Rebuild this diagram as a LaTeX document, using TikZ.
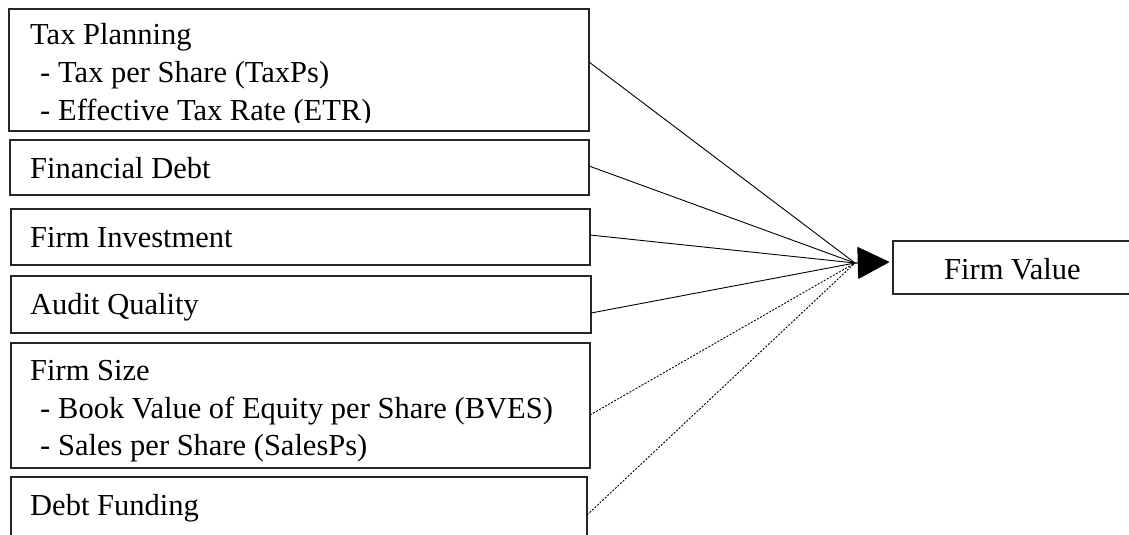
\documentclass[tikz,border=0pt]{standalone}
\usepackage{fontspec}
\setmainfont{Liberation Serif}
\usetikzlibrary{arrows.meta,calc}
\tikzset{
  box/.style={draw=black!85, line width=1.2pt, inner sep=0pt, outer sep=0pt, anchor=north west},
  lbl/.style={inner sep=0pt, anchor=base west, font=\fontsize{30.5}{37.5}\selectfont},
  link/.style={line width=0.9pt, black},
  dlink/.style={line width=0.9pt, black, dash pattern=on 2pt off 1.5pt},
  bigarrow/.style={line width=1.2pt, -{Triangle[length=32pt,width=32pt,round]}}
}
\begin{document}
\begin{tikzpicture}[x=1pt,y=-1pt]
\useasboundingbox (0,0) rectangle (1129,535);
% boxes
\node[box, minimum width=580pt, minimum height=122pt] (box1) at (9,9) {};
\node[box, minimum width=579pt, minimum height=55pt] (box2) at (10,140) {};
\node[box, minimum width=579pt, minimum height=56pt] (box3) at (11,209) {};
\node[box, minimum width=580pt, minimum height=57pt] (box4) at (11,276) {};
\node[box, minimum width=579pt, minimum height=125pt] (box5) at (11,343) {};
\node[box, minimum width=576pt, minimum height=80pt] (box6) at (11,477) {};
\node[box, minimum width=260pt, minimum height=53pt] (fv) at (893,241) {};
% texts
\node[lbl] (t1) at (30,45) {Tax Planning};
\node[lbl] (t1d1) at (40,82) {-};
\node[lbl] (t1a) at (58,82) {Tax per Share (TaxPs)};
\begin{scope}
\clip (0,0) rectangle (600,122);
\node[lbl] (t1d2) at (40,120) {-};
\node[lbl] (t1b) at (58,120) {Effective Tax Rate (ETR)};
\end{scope}
\node[lbl] (t2) at (30,178) {Financial Debt};
\node[lbl] (t3) at (30,247) {Firm Investment};
\node[lbl] (t4) at (30,314) {Audit Quality};
\node[lbl] (t5) at (30,380) {Firm Size};
\node[lbl] (t5d1) at (40,418) {-};
\node[lbl] (t5a) at (58,418) {Book Value of Equity per Share (BVES)};
\node[lbl] (t5d2) at (40,455) {-};
\node[lbl] (t5b) at (58,455) {Sales per Share (SalesPs)};
\node[lbl] (t6) at (30,515) {Debt Funding};
\node[lbl] (tfv) at (944,279) {Firm Value};
% connectors
\coordinate (conv) at (855,263);
\coordinate (tip) at ($(fv.west)+(-4,-5.5)$);
\draw[link] ($(box1.north east)+(0,53)$) -- (conv);
\draw[link] ($(box2.north east)+(0,26)$) -- (conv);
\draw[link] ($(box3.north east)+(0,26)$) -- (conv);
\draw[link] ($(box4.north east)+(0,37)$) -- (conv);
\draw[dlink] ($(box5.north east)+(0,72)$) -- (conv);
\draw[dlink] ($(box6.north east)+(0,38)$) -- (conv);
\draw[bigarrow] (conv) -- (tip);
\end{tikzpicture}
\end{document}
